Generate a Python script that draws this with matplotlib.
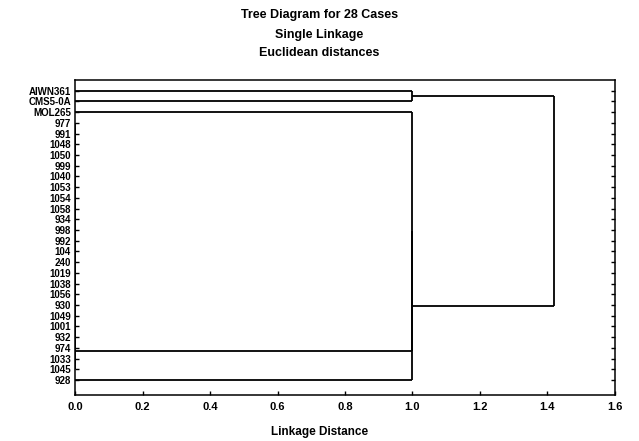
import numpy as np
import matplotlib
matplotlib.use("Agg")
import matplotlib.pyplot as plt

plt.rcParams['font.family'] = ['Liberation Sans', 'DejaVu Sans']
plt.rcParams['font.weight'] = 'bold'

# case labels, top to bottom (leaf order of the tree)
case_labels = ["AIWN361", "CMS5-0A", "MOL265", "977", "991", "1048", "1050",
               "999", "1040", "1053", "1054", "1058", "934", "998", "992",
               "104", "240", "1019", "1038", "1056", "930", "1049", "1001",
               "932", "974", "1033", "1045", "928"]

# merge table (scipy style ids: leaves 0..n-1, new clusters n, n+1, ...)
merge_a = [3, 28, 29, 30, 31, 32, 33, 34, 35, 36, 37, 38, 39, 40, 41, 42,
           43, 44, 45, 46, 47, 25, 48, 2, 51, 0, 53]
merge_b = [4, 5, 6, 7, 8, 9, 10, 11, 12, 13, 14, 15, 16, 17, 18, 19,
           20, 21, 22, 23, 24, 26, 49, 50, 27, 1, 52]
merge_h = [0.0, 0.0, 0.0, 0.0, 0.0, 0.0, 0.0, 0.0, 0.0, 0.0, 0.0, 0.0,
           0.0, 0.0, 0.0, 0.0, 0.0, 0.0, 0.0, 0.0, 0.0, 0.0, 0.0,
           1.0, 1.0, 1.0, 1.42]

x_ticks = [0.0, 0.2, 0.4, 0.6, 0.8, 1.0, 1.2, 1.4, 1.6]

n = len(case_labels)
fig = plt.figure(figsize=(6.39, 4.41), dpi=100)
ax = fig.add_axes([0.1174, 0.1043, 0.845, 0.7143])

# positions of leaves and clusters
ypos = {i: i + 1 for i in range(n)}
hgt = {i: 0.0 for i in range(n)}
for k, (a, b, h) in enumerate(zip(merge_a, merge_b, merge_h)):
    ya, yb = ypos[a], ypos[b]
    ax.plot([hgt[a], h], [ya, ya], color='black', lw=1.3, solid_capstyle='butt')
    ax.plot([hgt[b], h], [yb, yb], color='black', lw=1.3, solid_capstyle='butt')
    ax.plot([h, h], [ya, yb], color='black', lw=1.3, solid_capstyle='butt')
    ypos[n + k] = (ya + yb) / 2
    hgt[n + k] = h

ax.set_xlim(0, 1.6)
ax.set_ylim(n + 1.4, 0)
ax.set_xticks(x_ticks)
ax.set_xticklabels([f"{v:.1f}" for v in x_ticks], fontsize=8, fontweight='bold')
ax.set_yticks(range(1, n + 1))
ax.set_yticklabels(case_labels, fontsize=7, fontweight='bold')
ax.tick_params(axis='both', direction='in', length=3, width=1, right=True)
ax.tick_params(axis='y', pad=3)
ax.tick_params(axis='x', pad=5)
for s in ax.spines.values():
    s.set_linewidth(1.1)

fig.text(0.5, 0.966, "Tree Diagram for 28 Cases", ha='center', va='center',
         fontsize=9, fontweight='bold')
fig.text(0.5, 0.921, "Single Linkage", ha='center', va='center',
         fontsize=9, fontweight='bold')
fig.text(0.5, 0.880, "Euclidean distances", ha='center', va='center',
         fontsize=9, fontweight='bold')
fig.text(0.5, 0.02, "Linkage Distance", ha='center', va='center',
         fontsize=8.5, fontweight='bold')

fig.savefig("out.png", dpi=100)
